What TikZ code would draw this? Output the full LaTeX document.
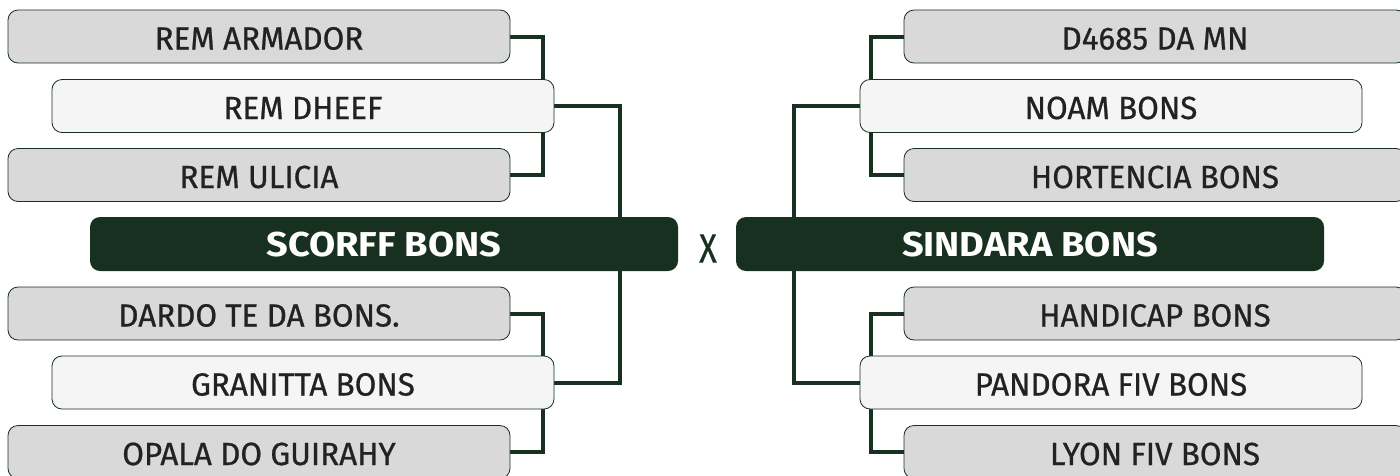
\documentclass[tikz,border=0pt]{standalone}
\usepackage{fontspec}
\setmainfont{Fira Sans}
\newfontfamily\boxfont{Fira Sans}[FakeBold=0.7, FakeStretch=0.98]
\newfontfamily\titlefont{Fira Sans}[FakeStretch=1.1]
\newfontfamily\xfont{Fira Sans}[FakeStretch=0.8, FakeBold=0.5]
\usetikzlibrary{backgrounds}
\definecolor{dgreen}{HTML}{17301F}
\definecolor{lgray}{HTML}{D9D9D9}
\definecolor{lwhite}{HTML}{F5F5F5}
\definecolor{txt}{HTML}{222222}
\begin{document}
\begin{tikzpicture}[x=1pt,y=-1pt,
 gbox/.style={draw=dgreen, line width=0.8pt, fill=lgray, rounded corners=10pt, minimum width=502pt, minimum height=53pt, inner sep=0pt, text height=26pt, text depth=0pt, font=\boxfont\fontsize{32}{34}\selectfont, text=txt},
 wbox/.style={gbox, fill=lwhite},
 tbox/.style={fill=dgreen, draw=none, rounded corners=10pt, minimum width=588pt, minimum height=54pt, inner sep=0pt, text height=24pt, text depth=0pt, text=white, font=\titlefont\fontsize{34.5}{36}\selectfont\bfseries},
 conn/.style={draw=dgreen, line width=4pt},
]
\useasboundingbox (0,0) rectangle (1400,475);
\clip (0,0) rectangle (1400,475);
% left side
\node[gbox] (ra) at (259,36.5) {REM ARMADOR};
\node[wbox] (dh) at (303,106) {REM DHEEF};
\node[gbox] (ul) at (259,175) {REM ULICIA};
\node[tbox] (sc) at (384,244) {SCORFF BONS};
\node[gbox] (dd) at (259,313.5) {DARDO TE DA BONS.};
\node[wbox] (gr) at (303,382.5) {GRANITTA BONS};
\node[gbox] (op) at (259,452) {OPALA DO GUIRAHY};
% right side
\node[gbox] (d4) at (1155,36.5) {D4685 DA MN};
\node[wbox] (nb) at (1111,106) {NOAM BONS};
\node[gbox] (ho) at (1155,175) {HORTENCIA BONS};
\node[tbox] (si) at (1030,244) {SINDARA BONS};
\node[gbox] (ha) at (1155,313.5) {HANDICAP BONS};
\node[wbox] (pf) at (1111,382.5) {PANDORA FIV BONS};
\node[gbox] (ly) at (1155,452) {LYON FIV BONS};
\node[text=dgreen, inner sep=0pt, font=\xfont\fontsize{41}{42}\selectfont] (x) at (708,248.5) {X};
\begin{pgfonlayer}{background}
\draw[conn] (ra.east) -| ([xshift=-11pt]dh.north east);
\draw[conn] (ul.east) -| ([xshift=-11pt]dh.south east);
\draw[conn] (dh.east) -| ([xshift=-58pt]sc.north east);
\draw[conn] (dd.east) -| ([xshift=-11pt]gr.north east);
\draw[conn] (op.east) -| ([xshift=-11pt]gr.south east);
\draw[conn] (gr.east) -| ([xshift=-58pt]sc.south east);
\draw[conn] (d4.west) -| ([xshift=11pt]nb.north west);
\draw[conn] (ho.west) -| ([xshift=11pt]nb.south west);
\draw[conn] (nb.west) -| ([xshift=58pt]si.north west);
\draw[conn] (ha.west) -| ([xshift=11pt]pf.north west);
\draw[conn] (ly.west) -| ([xshift=11pt]pf.south west);
\draw[conn] (pf.west) -| ([xshift=58pt]si.south west);
\end{pgfonlayer}
\end{tikzpicture}
\end{document}
